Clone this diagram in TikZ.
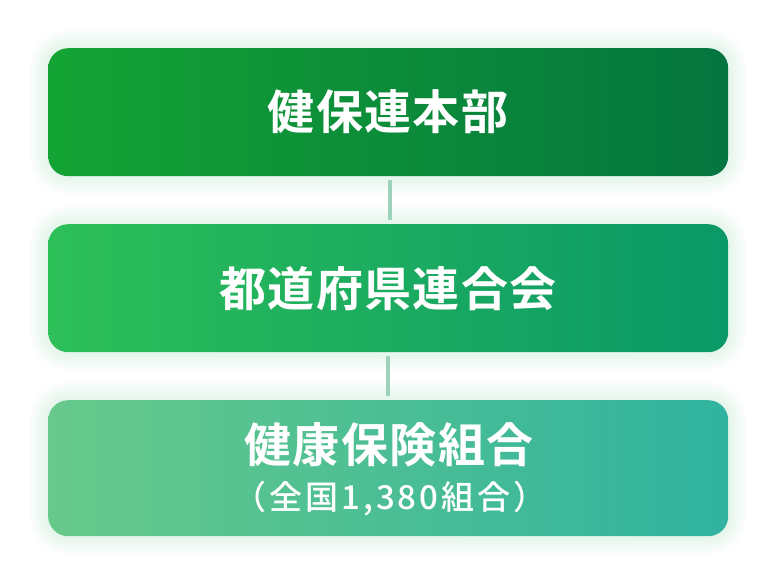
\documentclass[tikz,border=0pt]{standalone}
\usepackage{fontspec}
\newfontfamily\cjkmain{Noto Sans CJK JP Bold}[LetterSpace=3]
\newfontfamily\cjksub{Noto Sans CJK JP Medium}[LetterSpace=9]
\usetikzlibrary{shadings}
\definecolor{aL}{HTML}{13A334}
\definecolor{aR}{HTML}{05753F}
\definecolor{bL}{HTML}{2DBF58}
\definecolor{bR}{HTML}{0A9868}
\definecolor{cL}{HTML}{67C98B}
\definecolor{cR}{HTML}{30B39F}
\definecolor{conn}{HTML}{9DD3BD}
\definecolor{glow}{HTML}{A8E0C0}
\tikzset{
  box/.style={rounded corners=20pt, minimum width=680pt, inner sep=0pt},
  conline/.style={draw=conn, line width=4pt},
  mainlbl/.style={text=white, font=\cjkmain\fontsize{47}{52}\selectfont},
  sublbl/.style={text=white, font=\cjksub\fontsize{33}{37}\selectfont},
}
\newcommand{\glowbox}[4]{%
  \foreach \g in {18,15,12,9,6,3}{
    \fill[glow, opacity=0.055, rounded corners={20pt+\g pt}] (#1-\g,#2-\g) rectangle (#3+\g,#4+\g);
  }%
}
\begin{document}
\begin{tikzpicture}[x=1pt,y=-1pt]
\useasboundingbox (0,0) rectangle (776,584);
% glows
\glowbox{48}{48}{728}{176}
\glowbox{48}{224}{728}{352}
\glowbox{48}{400}{728}{536}
% boxes
\node[box, minimum height=128pt, left color=aL, right color=aR, anchor=north west] (hq) at (48,48) {};
\node[box, minimum height=128pt, left color=bL, right color=bR, anchor=north west] (pref) at (48,224) {};
\node[box, minimum height=136pt, left color=cL, right color=cR, anchor=north west] (kumi) at (48,400) {};
% connectors
\coordinate (c1a) at (390,180);
\coordinate (c1b) at (390,220);
\coordinate (c2a) at (388,356);
\coordinate (c2b) at (388,396);
\draw[conline] (c1a) -- (c1b);
\draw[conline] (c2a) -- (c2b);
% labels
\node[mainlbl] (t1) at (388,112) {健保連本部};
\node[mainlbl] (t2) at (388,289) {都道府県連合会};
\node[mainlbl] (t3) at (389,445) {健康保険組合};
\node[sublbl] (t4) at (390,499) {（全国1,380組合）};
\end{tikzpicture}
\end{document}
